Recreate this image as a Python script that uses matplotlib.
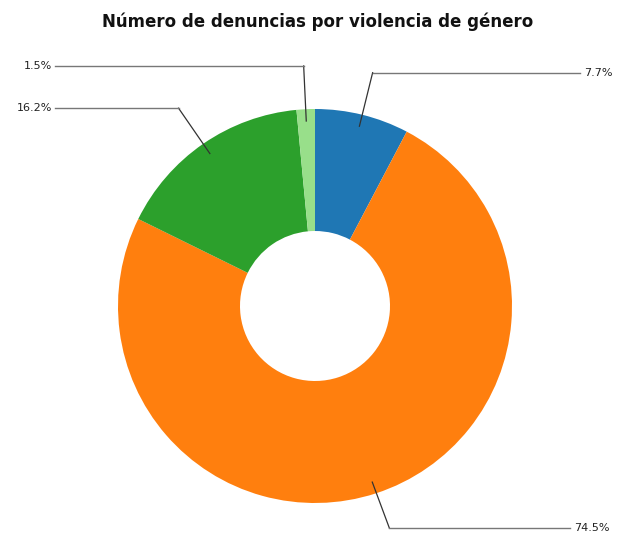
import matplotlib.pyplot as plt
import numpy as np

valores = [7.7, 74.5, 16.2, 1.5]
etiquetas = ["7.7%", "74.5%", "16.2%", "1.5%"]
colores = ["#1f77b4", "#ff7f0e", "#2ca02c", "#98df8a"]
titulo = "Número de denuncias por violencia de género"

fig = plt.figure(figsize=(6.21, 5.34), dpi=100)
ax = fig.add_axes([0, 0, 1, 1])

centro = (315, 228)
radio = 197
wedges, _ = ax.pie(valores, colors=colores, startangle=90, counterclock=False,
                   center=centro, radius=radio, frame=True,
                   wedgeprops=dict(width=radio - 75, linewidth=0))
ax.set_xlim(0, 621)
ax.set_ylim(0, 534)
ax.set_aspect("equal")
ax.axis("off")

# lineas de etiqueta con codo
for w, txt in zip(wedges, etiquetas):
    ang = np.deg2rad((w.theta1 + w.theta2) / 2)
    x0 = centro[0] + 0.94 * radio * np.cos(ang)
    y0 = centro[1] + 0.94 * radio * np.sin(ang)
    x1 = centro[0] + 1.22 * radio * np.cos(ang)
    y1 = max(centro[1] + 1.22 * radio * np.sin(ang), 6)
    if np.cos(ang) >= 0:
        x2 = 580 if np.sin(ang) > 0 else 570
        ax.text(x2 + 4, y1, txt, ha="left", va="center", fontsize=8, color="#222222")
    else:
        x2 = 55
        ax.text(x2 - 3, y1, txt, ha="right", va="center", fontsize=8, color="#222222")
    ax.plot([x0, x1], [y0, y1], color="#333333", lw=0.9)
    ax.plot([x1, x2], [y1, y1], color="#777777", lw=1.0)

ax.text(318, 512, titulo, ha="center", va="center", fontsize=12, fontweight="bold", color="#111111")

plt.savefig("out.png", dpi=100)
plt.close()
